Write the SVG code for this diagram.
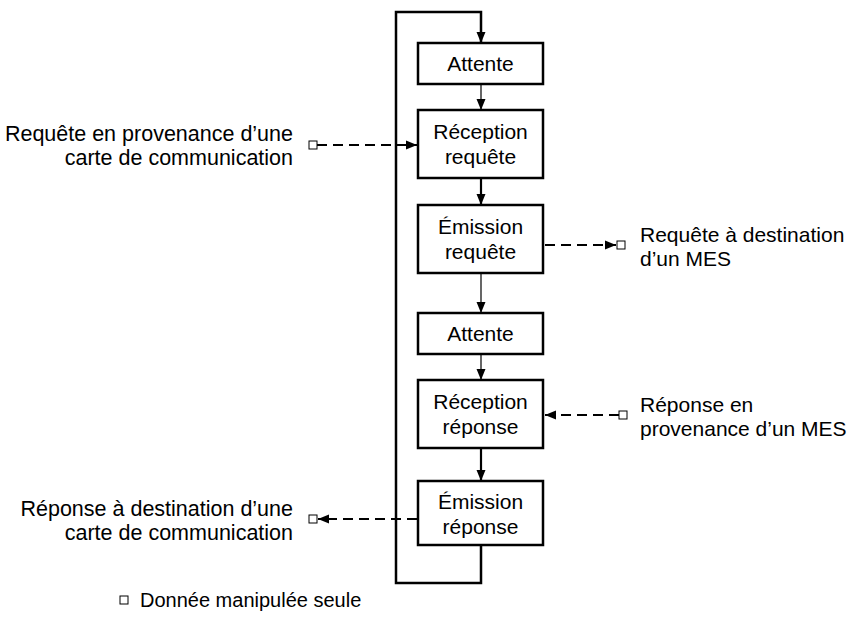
<svg xmlns="http://www.w3.org/2000/svg" width="849" height="633" viewBox="0 0 849 633">
  <defs>
    <style>
      .box { fill: #ffffff; stroke: #000000; stroke-width: 2.5; }
      .lbl { font-family: "Liberation Sans", Arial, sans-serif; font-size: 21px; fill: #000000; }
      .side { font-size: 21.5px; }
      .note { font-size: 20px; }
      .mid { text-anchor: middle; }
      .end { text-anchor: end; }
      .loop { fill: none; stroke: #000000; stroke-width: 2.5; }
      .flow { fill: none; stroke: #000000; stroke-width: 1.2; }
      .flow-bold { fill: none; stroke: #000000; stroke-width: 2.2; }
      .data { fill: none; stroke: #000000; stroke-width: 2.2; stroke-dasharray: 10 6; }
      .datum { fill: #ffffff; stroke: #000000; stroke-width: 1; }
    </style>
    <marker id="arrow" markerUnits="userSpaceOnUse" markerWidth="11" markerHeight="10" refX="11" refY="5" orient="auto">
      <path d="M0,0.5 L11,5 L0,9.5 z" fill="#000000"/>
    </marker>
  </defs>

  <!-- control flow -->
  <g id="connectors">
    <path class="loop" d="M481,545 V583 H396 V12 H481 V43" marker-end="url(#arrow)"/>
    <path class="flow" d="M481,84 V110" marker-end="url(#arrow)"/>
    <path class="flow-bold" d="M481,178 V205" marker-end="url(#arrow)"/>
    <path class="flow" d="M481,273 V313" marker-end="url(#arrow)"/>
    <path class="flow" d="M481,354 V380" marker-end="url(#arrow)"/>
    <path class="flow-bold" d="M481,448 V481" marker-end="url(#arrow)"/>
    <!-- data exchanges -->
    <path class="data" d="M317,145 H417" marker-end="url(#arrow)"/>
    <path class="data" d="M545,245 H616" marker-end="url(#arrow)"/>
    <path class="data" d="M619,415 H545" marker-end="url(#arrow)"/>
    <path class="data" d="M417,519 H318" marker-end="url(#arrow)"/>
  </g>

  <g id="attente-1">
    <rect class="box" x="418" y="43" width="125" height="41"/>
    <text class="lbl mid" x="480.5" y="71">Attente</text>
  </g>
  <g id="reception-requete">
    <rect class="box" x="418" y="110" width="125" height="68"/>
    <text class="lbl mid" x="480.5" y="139">Réception</text>
    <text class="lbl mid" x="480.5" y="164">requête</text>
  </g>
  <g id="emission-requete">
    <rect class="box" x="418" y="205" width="125" height="68"/>
    <text class="lbl mid" x="480.5" y="234">Émission</text>
    <text class="lbl mid" x="480.5" y="259">requête</text>
  </g>
  <g id="attente-2">
    <rect class="box" x="418" y="313" width="125" height="41"/>
    <text class="lbl mid" x="480.5" y="341">Attente</text>
  </g>
  <g id="reception-reponse">
    <rect class="box" x="418" y="380" width="125" height="68"/>
    <text class="lbl mid" x="480.5" y="409">Réception</text>
    <text class="lbl mid" x="480.5" y="434">réponse</text>
  </g>
  <g id="emission-reponse">
    <rect class="box" x="418" y="481" width="125" height="64"/>
    <text class="lbl mid" x="480.5" y="509">Émission</text>
    <text class="lbl mid" x="480.5" y="534">réponse</text>
  </g>

  <g id="requete-entrante">
    <rect class="datum" x="309" y="141" width="8" height="8"/>
    <text class="lbl side end" x="293" y="141">Requête en provenance d’une</text>
    <text class="lbl side end" x="293" y="165">carte de communication</text>
  </g>
  <g id="requete-sortante">
    <rect class="datum" x="617" y="241" width="8" height="8"/>
    <text class="lbl" x="640" y="242">Requête à destination</text>
    <text class="lbl" x="640" y="266">d’un MES</text>
  </g>
  <g id="reponse-entrante">
    <rect class="datum" x="619" y="411" width="8" height="8"/>
    <text class="lbl" x="640" y="412">Réponse en</text>
    <text class="lbl" x="640" y="436">provenance d’un MES</text>
  </g>
  <g id="reponse-sortante">
    <rect class="datum" x="309" y="515" width="8" height="8"/>
    <text class="lbl side end" x="293" y="516">Réponse à destination d’une</text>
    <text class="lbl side end" x="293" y="540">carte de communication</text>
  </g>

  <g id="legende">
    <rect class="datum" x="120" y="596" width="8" height="8"/>
    <text class="lbl note" x="140" y="607">Donnée manipulée seule</text>
  </g>
</svg>
